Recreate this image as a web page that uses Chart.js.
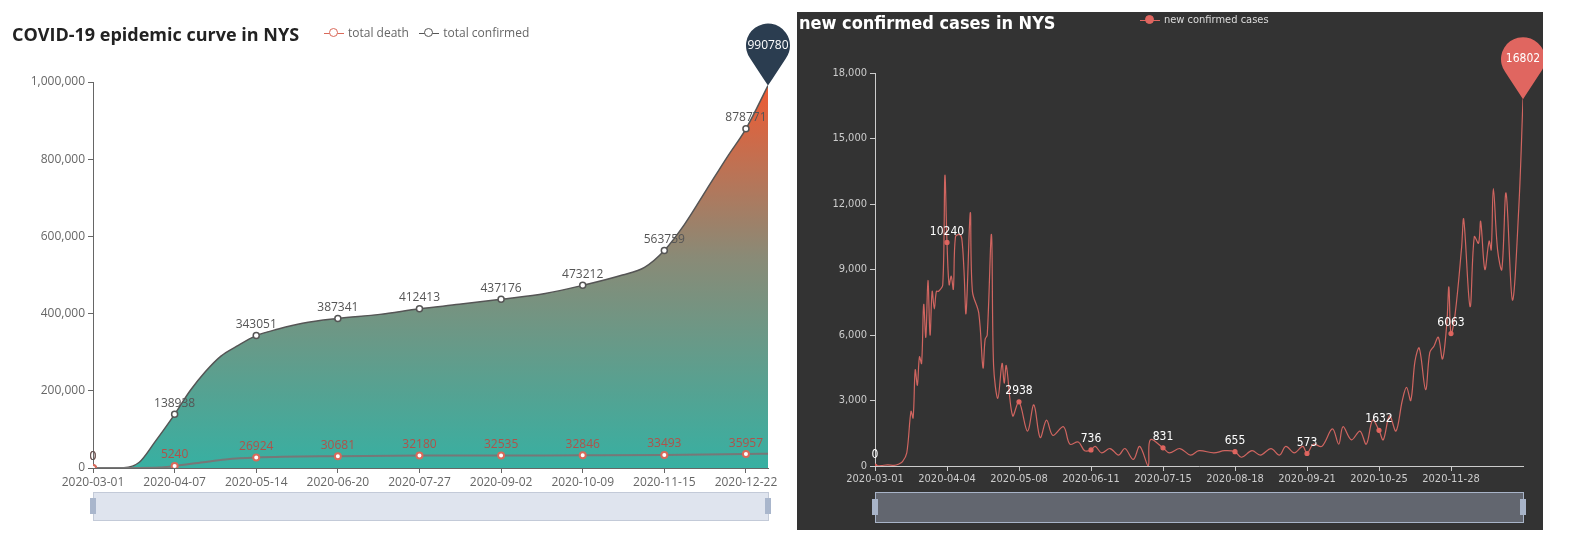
<!DOCTYPE html>
<html><head><meta charset="utf-8">
<script src="https://cdn.jsdelivr.net/npm/chart.js@4/dist/chart.umd.min.js"></script>
<style>
html,body{margin:0;width:1585px;height:554px;background:#fff;overflow:hidden;font-family:"Open Sans",sans-serif}
body{position:relative}
canvas{display:block}
#lw{position:absolute;left:0;top:0;width:790px;height:554px}
#rw{position:absolute;left:797px;top:12px;width:746px;height:518px;background:#333}
.t{position:absolute;font-weight:bold}
.lg{position:absolute;font-size:12px;display:flex;align-items:center;gap:4px}
.mk{display:inline-block;width:20px;height:10px;position:relative}
.mk:before{content:"";position:absolute;left:0;right:0;top:5px;border-top:1.5px solid var(--c)}
.mk:after{content:"";position:absolute;left:5px;top:0;width:7px;height:7px;border:1.5px solid var(--c);border-radius:50%;background:var(--b)}
</style></head><body>
<div id="lw"><canvas id="lc"></canvas></div>
<div id="rw"><canvas id="rc"></canvas></div>
<div class="t" style="left:12px;top:22px;font-size:18px;color:#222">COVID-19 epidemic curve in NYS</div>
<div class="lg" style="left:324px;top:24px;color:#666"><span class="mk" style="--c:#d9695a;--b:#fff"></span>total death&nbsp;&nbsp;<span class="mk" style="--c:#555;--b:#fff"></span>total confirmed</div>
<div class="t" style="left:799px;top:12px;font-size:18px;color:#fff;font-family:'DejaVu Sans Condensed','Open Sans',sans-serif">new confirmed cases in NYS</div>
<div class="lg" style="left:1140px;top:13px;color:#ddd;font-size:11px;font-family:'DejaVu Sans Condensed','Open Sans',sans-serif"><span class="mk" style="--c:#e06660;--b:#e06660"></span>new confirmed cases</div>
<script>
// ---- data ----
const startDate = '2020-03-01';
const leftTickLabels = ['2020-03-01','2020-04-07','2020-05-14','2020-06-20','2020-07-27','2020-09-02','2020-10-09','2020-11-15','2020-12-22'];
const rightTickLabels = ['2020-03-01','2020-04-04','2020-05-08','2020-06-11','2020-07-15','2020-08-18','2020-09-21','2020-10-25','2020-11-28'];
const confirmedDays = [0,7,14,21,28,37,44,51,58,65,74,84,95,111,130,148,166,185,205,222,240,250,259,268,278,288,296,306];
const confirmedVals = [0,100,700,15000,67000,138938,200000,250000,290000,315000,343051,360000,375000,387341,398000,412413,424000,437176,452000,473212,500000,520000,563759,630000,720000,810000,878771,990780];
const deathDays = [0,20,30,37,50,60,74,111,148,185,222,259,296,306];
const deathVals = [0,10,1000,5240,15000,22000,26924,30681,32180,32535,32846,33493,35957,37000];
const leftLabelDays = [0,37,74,111,148,185,222,259,296];
const newDays = [0,3,6,9,11,13,15,17,18,19,20,21,22,23,24,25,26,27,28,29,30,32,33,34,35,36,37,38,40,41,42,43,45,46,49,51,52,53,55,56,58,60,61,62,65,68,72,75,78,81,84,89,92,96,99,102,104,107,111,115,118,122,125,129,130,136,139,144,149,153,160,165,170,173,178,182,187,191,194,198,202,204,207,211,216,219,221,225,229,232,235,238,240,243,246,249,251,253,255,257,260,262,264,266,268,270,271,272,274,277,278,281,283,285,286,288,290,291,292,294,296,298,301,304,306];
const newVals = [0,20,50,30,80,200,600,2500,2200,4400,3700,5000,4700,7400,5900,8500,6000,8000,7200,8000,8000,8300,13300,10240,8300,8700,8100,10500,10600,10400,9000,7000,11600,8000,7000,4500,5800,6000,10600,4600,3100,4700,3800,4600,2300,2938,1600,2800,1300,2100,1400,1800,1000,1100,700,736,900,600,800,500,800,300,900,0,1200,831,600,800,500,700,600,700,655,400,700,500,800,500,900,600,900,573,1000,900,1700,1000,1800,1200,1600,1000,2100,1632,1200,2300,1600,3000,3600,3000,4800,5400,3500,5200,5500,5900,4900,6500,8200,6063,7000,10000,11300,7300,10500,10200,11200,9000,10300,9900,12700,9900,9000,12500,7600,11800,16802];
const rightLabelDays = [0,34,68,102,136,170,204,238,272];

const pts = (d,v) => d.map((x,i)=>({x,y:v[i]}));
const fmt = v => v.toLocaleString('en-US');

const labelPlugin = {
  id:'lbl',
  afterDatasetsDraw(chart){
    const {ctx} = chart;
    const o = chart.options.plugins.lbl;
    chart.data.datasets.forEach((ds,di)=>{
      const meta = chart.getDatasetMeta(di);
      ctx.save();
      ctx.font = o.font; ctx.fillStyle = ds.labelColor; ctx.textAlign='center'; ctx.textBaseline='bottom';
      ds.data.forEach((p,i)=>{
        if(o.days.includes(p.x)){ const e=meta.data[i]; ctx.fillText(String(p.y), e.x, e.y-5); }
      });
      if(ds.pin){
        const e = meta.data[meta.data.length-1];
        const r = 22, cy = e.y-40;
        ctx.fillStyle = ds.pin;
        ctx.beginPath();
        ctx.arc(e.x, cy, r, Math.PI*0.8, Math.PI*0.2, false);
        ctx.quadraticCurveTo(e.x+8, cy+28, e.x, e.y);
        ctx.quadraticCurveTo(e.x-8, cy+28, e.x+r*Math.cos(Math.PI*0.8), cy+r*Math.sin(Math.PI*0.8));
        ctx.fill();
        ctx.fillStyle='#fff'; ctx.textBaseline='middle'; ctx.font=o.font;
        ctx.fillText(String(ds.data[ds.data.length-1].y), e.x, cy);
      }
      ctx.restore();
    });
    const a = chart.chartArea, s = o.slider;
    ctx.save();
    ctx.fillStyle = s.fill; ctx.strokeStyle = s.stroke; ctx.lineWidth=1;
    ctx.fillRect(a.left, s.top, a.right-a.left, s.h);
    ctx.strokeRect(a.left+0.5, s.top+0.5, a.right-a.left, s.h);
    ctx.fillStyle = s.handle;
    [a.left, a.right].forEach(x=>{ctx.fillRect(x-3, s.top+s.h/2-8, 6, 16);});
    ctx.restore();
  }
};

function xScale(labels, step, color, font){
  return {type:'linear', min:0, max:306,
    afterBuildTicks: s => { s.ticks = labels.map((_,i)=>({value:i*step})); },
    afterFit: s => { s.height = s.options.fitH; },
    ticks:{color, font, maxRotation:0, autoSkip:false, padding:2, callback:v=>labels[v/step]},
    grid:{drawOnChartArea:false, color, tickLength:5}, border:{color}};
}
function yScale(max, step, color, font, w){
  return {min:0, max, afterFit: s => { s.width = w; },
    ticks:{stepSize:step, color, font, callback:fmt, padding:3},
    grid:{drawOnChartArea:false, color, tickLength:5}, border:{color}};
}

const lctx = document.getElementById('lc').getContext('2d');
const lx = xScale(leftTickLabels,37,'#666',{family:'Open Sans',size:12}); lx.fitH = 86;
new Chart(lctx,{type:'line',
  data:{datasets:[
    {data:pts(deathDays,deathVals), borderColor:'#777', borderWidth:2, tension:0.4, cubicInterpolationMode:'monotone',
     pointRadius:c=>leftLabelDays.includes(c.raw?.x)?3:0, pointBackgroundColor:'#fff', pointBorderColor:'#d9695a', labelColor:'#b0524a', fill:false},
    {data:pts(confirmedDays,confirmedVals), borderColor:'#555', borderWidth:1.5, cubicInterpolationMode:'monotone',
     pointRadius:c=>leftLabelDays.includes(c.raw?.x)?3:0, pointBackgroundColor:'#fff', pointBorderColor:'#555', labelColor:'#555', pin:'#2b3d50',
     fill:'origin',
     backgroundColor:c=>{const a=c.chart.chartArea; if(!a) return '#3aaea0'; const g=c.chart.ctx.createLinearGradient(0,a.bottom,0,a.top); g.addColorStop(0,'#37b0a2'); g.addColorStop(0.55,'#8a8a76'); g.addColorStop(1,'#f05a32'); return g;}}
  ]},
  options:{responsive:true, maintainAspectRatio:false, animation:false,
    layout:{padding:{left:0,top:82,right:22,bottom:0}},
    plugins:{legend:{display:false}, tooltip:{enabled:false},
      lbl:{days:leftLabelDays, font:'12px "Open Sans"', slider:{top:492,h:28,fill:'#dfe4ee',stroke:'#c3cad8',handle:'#a9b6cc'}}},
    scales:{x:lx, y:yScale(1000000,200000,'#666',{family:'Open Sans',size:12},93)}},
  plugins:[labelPlugin]});

const rctx = document.getElementById('rc').getContext('2d');
const rf = {family:'DejaVu Sans Condensed',size:11};
const rx = xScale(rightTickLabels,34,'#ccc',rf); rx.fitH = 64;
new Chart(rctx,{type:'line',
  data:{datasets:[
    {data:pts(newDays,newVals), borderColor:'#d06560', borderWidth:1.2, tension:0.35,
     pointRadius:c=>rightLabelDays.includes(c.raw?.x)?2:0, pointBackgroundColor:'#e06660', pointBorderColor:'#e06660', labelColor:'#fff', pin:'#e06660', fill:false}
  ]},
  options:{responsive:true, maintainAspectRatio:false, animation:false,
    layout:{padding:{left:0,top:61,right:20,bottom:0}},
    plugins:{legend:{display:false}, tooltip:{enabled:false},
      lbl:{days:rightLabelDays, font:'12px "DejaVu Sans Condensed"', slider:{top:480,h:30,fill:'#62666f',stroke:'#a8b4c8',handle:'#a8b4c8'}}},
    scales:{x:rx, y:yScale(18000,3000,'#ccc',rf,78)}},
  plugins:[labelPlugin]});
</script>
</body></html>
